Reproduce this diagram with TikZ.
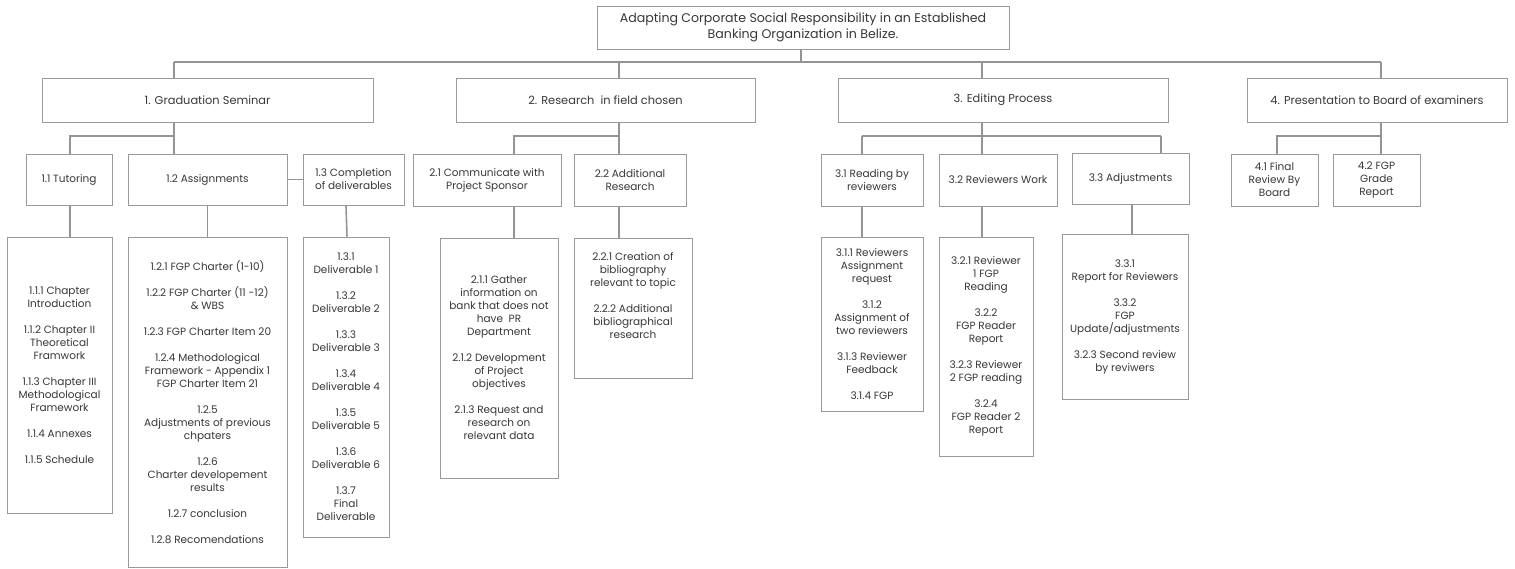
\documentclass[tikz,border=0pt]{standalone}
\usepackage{fontspec}
\setmainfont{Poppins}
\begin{document}
\begin{tikzpicture}[x=1pt,y=-1pt,
  box/.style={draw=black!40, line width=1pt, fill=white, align=center,
    inner sep=0pt, text=black!78},
  tfont/.style={font=\fontsize{12.6}{16}\selectfont},
  lfont/.style={font=\fontsize{11.4}{13}\selectfont},
  sfont/.style={font=\fontsize{10.5}{13}\selectfont},
  conn/.style={draw=black!42, line width=1.6pt}]
\useasboundingbox (0,0) rectangle (1515,568);
\newcommand{\gap}{\\[13pt]}

% root
\node[box, tfont, minimum width=412, minimum height=43] (root) at (803,27.5)
  {Adapting Corporate Social Responsibility in an Established\\Banking Organization in Belize.};

% level 1
\node[box, lfont, minimum width=331, minimum height=44] (grad) at (207.5,100) {1. Graduation Seminar};
\node[box, lfont, minimum width=299, minimum height=44] (res)  at (605.5,100) {2. Research\ \ in field chosen};
\node[box, lfont, minimum width=330, minimum height=44] (edit) at (1003,100) {3. Editing Process};
\node[box, lfont, minimum width=260, minimum height=44] (pres) at (1377,100) {4. Presentation to Board of examiners};

% level 2
\node[box, sfont, minimum width=86,  minimum height=51] (t11) at (69,179.5) {1.1 Tutoring};
\node[box, sfont, minimum width=159, minimum height=51] (t12) at (207.5,179.5) {1.2 Assignments};
\node[box, sfont, minimum width=101, minimum height=51] (t13) at (353.5,179.5) {1.3 Completion\\of deliverables};
\node[box, sfont, minimum width=148, minimum height=52] (t21) at (487,180) {2.1 Communicate with\\Project Sponsor};
\node[box, sfont, minimum width=112, minimum height=52] (t22) at (630,180) {2.2 Additional\\Research};
\node[box, sfont, minimum width=102, minimum height=52] (t31) at (872,180) {3.1 Reading by\\reviewers};
\node[box, sfont, minimum width=118, minimum height=52] (t32) at (998,180) {3.2 Reviewers Work};
\node[box, sfont, minimum width=117, minimum height=51] (t33) at (1130.5,178.5) {3.3 Adjustments};
\node[box, sfont, minimum width=87,  minimum height=52] (t41) at (1274.5,180) {4.1 Final\\Review By\\Board};
\node[box, sfont, minimum width=87,  minimum height=52] (t42) at (1376.5,180) {4.2 FGP\\Grade\\Report};

% level 3
\node[box, sfont, minimum width=105, minimum height=276] (d11) at (59.5,375)
  {1.1.1 Chapter\\Introduction\gap 1.1.2 Chapter II\\Theoretical\\Framwork\gap
   1.1.3 Chapter III\\Methodological\\Framework\gap 1.1.4 Annexes\gap 1.1.5 Schedule};
\node[box, sfont, minimum width=159, minimum height=330] (d12) at (207.5,402)
  {1.2.1 FGP Charter (1-10)\gap 1.2.2 FGP Charter (11 -12)\\\& WBS\gap
   1.2.3 FGP Charter Item 20\gap 1.2.4 Methodological\\Framework - Appendix 1\\FGP Charter Item 21\gap
   1.2.5\\Adjustments of previous\\chpaters\gap 1.2.6\\Charter developement\\results\gap
   1.2.7 conclusion\gap 1.2.8 Recomendations};
\node[box, sfont, minimum width=86, minimum height=300] (d13) at (346,387)
  {1.3.1\\Deliverable 1\gap 1.3.2\\Deliverable 2\gap 1.3.3\\Deliverable 3\gap
   1.3.4\\Deliverable 4\gap 1.3.5\\Deliverable 5\gap 1.3.6\\Deliverable 6\gap
   1.3.7\\Final\\Deliverable};
\node[box, sfont, minimum width=118, minimum height=240] (d21) at (499,358)
  {2.1.1 Gather\\information on\\bank that does not\\have\ \ PR\\Department\gap
   2.1.2 Development\\of Project\\objectives\gap 2.1.3 Request and\\research on\\relevant data};
\node[box, sfont, minimum width=118, minimum height=140] (d22) at (633,308)
  {2.2.1 Creation of\\bibliography\\relevant to topic\gap 2.2.2 Additional\\bibliographical\\research\\[13pt]\mbox{}};
\node[box, sfont, minimum width=102, minimum height=174] (d31) at (872,324)
  {3.1.1 Reviewers\\Assignment\\request\gap 3.1.2\\Assignment of\\two reviewers\gap
   3.1.3 Reviewer\\Feedback\gap 3.1.4 FGP};
\node[box, sfont, minimum width=94, minimum height=219] (d32) at (986,346.5)
  {3.2.1 Reviewer\\1 FGP\\Reading\gap 3.2.2\\FGP Reader\\Report\gap
   3.2.3 Reviewer\\2 FGP reading\gap 3.2.4\\FGP Reader 2\\Report};
\node[box, sfont, minimum width=126, minimum height=165] (d33) at (1125,316.5)
  {3.3.1\\Report for Reviewers\gap 3.3.2\\FGP\\Update/adjustments\gap
   3.2.3 Second review\\by reviwers};

% junction points of the connectors
\coordinate (b1) at (174,62);  \coordinate (b2) at (619,62);
\coordinate (b3) at (982,62);  \coordinate (b4) at (1381,62);
\coordinate (bm) at (801,62);
\coordinate (g1a) at (70,136);   \coordinate (g1b) at (174,136);
\coordinate (g2a) at (514,136);  \coordinate (g2b) at (619,136);
\coordinate (g3a) at (862,136);  \coordinate (g3b) at (982,136);  \coordinate (g3c) at (1161,136);
\coordinate (g4a) at (1277,136); \coordinate (g4b) at (1381,136);

% root to level 1
\draw[conn] (root.south -| bm) -- (bm);
\draw[conn] (b1) -- (b4);
\draw[conn] (b1) -- (grad.north -| b1);
\draw[conn] (b2) -- (res.north -| b2);
\draw[conn] (b3) -- (edit.north -| b3);
\draw[conn] (b4) -- (pres.north -| b4);

% group 1
\draw[conn] (grad.south -| g1b) -- (g1b) -- (g1a) -- (t11.north -| g1a);
\draw[conn] (g1b) -- (t12.north -| g1b);
\draw[conn] (t12.east) -- (t13.west);
\draw[conn] (t11.south -| g1a) -- (d11.north -| g1a);
\draw[conn] (t12.south) -- (d12.north);
\draw[conn] (t13.south -| d13.north) -- ([xshift=1pt]d13.north);

% group 2
\draw[conn] (res.south -| g2b) -- (g2b) -- (g2a) -- (t21.north -| g2a);
\draw[conn] (g2b) -- (t22.north -| g2b);
\draw[conn] (t21.south -| g2a) -- (d21.north -| g2a);
\draw[conn] (t22.south -| g2b) -- (d22.north -| g2b);

% group 3
\draw[conn] (edit.south -| g3b) -- (g3b);
\draw[conn] (g3a) -- (g3c);
\draw[conn] (g3a) -- (t31.north -| g3a);
\draw[conn] (g3b) -- (t32.north -| g3b);
\draw[conn] (g3c) -- (t33.north -| g3c);
\draw[conn] (t31.south -| g3a) -- (d31.north -| g3a);
\draw[conn] (t32.south -| g3b) -- (d32.north -| g3b);
\draw[conn] ([xshift=1.5pt]t33.south) -- ([xshift=1.5pt]t33.south |- d33.north);

% group 4
\draw[conn] (pres.south -| g4b) -- (g4b) -- (g4a) -- (t41.north -| g4a);
\draw[conn] (g4b) -- (t42.north -| g4b);
\end{tikzpicture}
\end{document}
